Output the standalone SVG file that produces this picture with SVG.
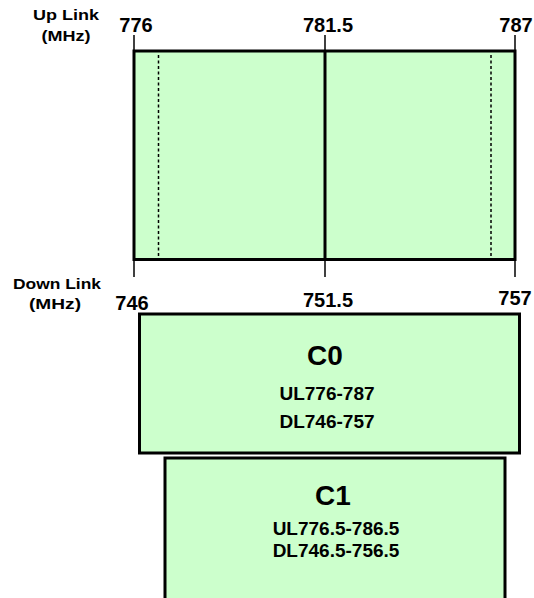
<svg xmlns="http://www.w3.org/2000/svg" width="534" height="598" viewBox="0 0 534 598">
<style>
text{font-family:"Liberation Sans",Arial,sans-serif;font-weight:bold;fill:#000;text-anchor:middle}
.f{font-size:20px}
.lab{font-size:15px}
.big{font-size:28px}
.m{font-size:19px}
.box{fill:#CCFFCC;stroke:#000;stroke-width:3}
.tick{stroke:#000;stroke-width:1.5}
.dash{stroke:#000;stroke-width:1.5;stroke-dasharray:3,2.5}
</style>
<rect width="534" height="598" fill="#fff"/>
<g id="band">
<rect class="box" x="134" y="51" width="381" height="208.5"/>
<line x1="325" y1="51" x2="325" y2="259.5" stroke="#000" stroke-width="3"/>
<line class="dash" x1="158.5" y1="55" x2="158.5" y2="256"/>
<line class="dash" x1="491" y1="55" x2="491" y2="256"/>
</g>
<g id="ticks">
<line class="tick" x1="134" y1="35" x2="134" y2="51"/>
<line class="tick" x1="325" y1="35" x2="325" y2="51"/>
<line class="tick" x1="515" y1="35" x2="515" y2="51"/>
<line class="tick" x1="134" y1="259.5" x2="134" y2="277"/>
<line class="tick" x1="325" y1="259.5" x2="325" y2="277"/>
<line class="tick" x1="515" y1="259.5" x2="515" y2="277"/>
</g>
<g id="labels">
<text class="lab" x="66" y="20" textLength="66" lengthAdjust="spacingAndGlyphs">Up Link</text>
<text class="lab" x="66" y="41" textLength="49" lengthAdjust="spacingAndGlyphs">(MHz)</text>
<text class="lab" x="57" y="289" textLength="88" lengthAdjust="spacingAndGlyphs">Down Link</text>
<text class="lab" x="55" y="309" textLength="52" lengthAdjust="spacingAndGlyphs">(MHz)</text>
<text class="f" x="136" y="32">776</text>
<text class="f" x="328" y="32">781.5</text>
<text class="f" x="516" y="32">787</text>
<text class="f" x="132" y="310">746</text>
<text class="f" x="328" y="307">751.5</text>
<text class="f" x="515" y="305">757</text>
</g>
<g id="C0">
<rect class="box" x="139.5" y="314" width="380" height="139"/>
<text class="big" x="325" y="365">C0</text>
<text class="m" x="327" y="400">UL776-787</text>
<text class="m" x="327" y="428">DL746-757</text>
</g>
<g id="C1">
<rect class="box" x="165" y="458" width="340" height="160"/>
<text class="big" x="333" y="505">C1</text>
<text class="m" x="336" y="535">UL776.5-786.5</text>
<text class="m" x="336" y="557">DL746.5-756.5</text>
</g>
</svg>
